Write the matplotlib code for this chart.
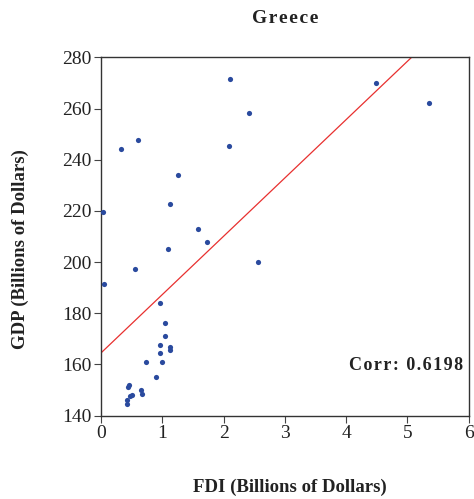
import matplotlib
matplotlib.use("Agg")
import matplotlib.pyplot as plt
import numpy as np

# FDI (billions of dollars) vs GDP (billions of dollars)
fdi = [2.10, 2.42, 2.09, 0.32, 0.61, 1.26, 1.13, 0.03, 1.58, 1.73, 1.09,
       2.56, 0.55, 0.05, 0.97, 1.05, 1.04, 0.96, 1.13, 1.12, 0.96, 0.74,
       0.99, 0.90, 0.46, 0.44, 0.65, 0.67, 0.50, 0.47, 0.42, 0.42, 4.49, 5.35]
gdp = [271.4, 258.3, 245.5, 244.2, 247.7, 234.1, 222.7, 219.5, 212.8, 207.9, 205.1,
       200.0, 197.3, 191.5, 184.0, 176.1, 171.1, 167.6, 166.9, 165.8, 164.4, 160.8,
       160.8, 155.1, 152.0, 151.2, 150.1, 148.6, 148.0, 147.6, 146.1, 144.6, 270.1, 262.2]
fit_intercept = 164.5
fit_slope = 22.8
corr_text = "Corr: 0.6198"
title = "Greece"

plt.rcParams['font.family'] = ['Liberation Serif', 'DejaVu Serif']


def spaced(s, sep="\u200a"):
    # letter-spaced look of the original
    return sep.join(s)


fig = plt.figure(figsize=(4.74, 4.99), dpi=100)
ax = fig.add_axes([0.213, 0.167, 0.776, 0.718])

xs = np.array([0, 6])
ax.plot(xs, fit_intercept + fit_slope * xs, color='#e8302f', linewidth=0.9, zorder=2)
ax.scatter(fdi, gdp, s=14, color='#2a4a9e', zorder=3, linewidths=0)

ax.set_xlim(0, 6)
ax.set_ylim(140, 280)
ax.set_xticks(range(0, 7))
ax.set_yticks(range(140, 281, 20))
ax.tick_params(labelsize=14, length=5, width=0.8, direction='out',
               color='#444444', pad=2, labelcolor='#222222')

for side in ['left', 'bottom', 'top', 'right']:
    ax.spines[side].set_linewidth(1.0)
    ax.spines[side].set_color('#333333')

ax.text(0.985, 0.14, spaced(corr_text), transform=ax.transAxes, ha='right',
        va='center', fontsize=13, fontweight='bold', color='#222222')

fig.text(0.601, 0.963, spaced(title), ha='center', va='center', fontsize=14,
         fontweight='bold', color='#222222')
fig.text(0.612, 0.024, "FDI (Billions of Dollars)", ha='center', va='center',
         fontsize=13.5, fontweight='bold', color='#222222')
fig.text(0.042, 0.5, "GDP (Billions of Dollars)", ha='center', va='center',
         fontsize=13.5, fontweight='bold', rotation=90, color='#222222')

fig.savefig("out.png", dpi=100)
